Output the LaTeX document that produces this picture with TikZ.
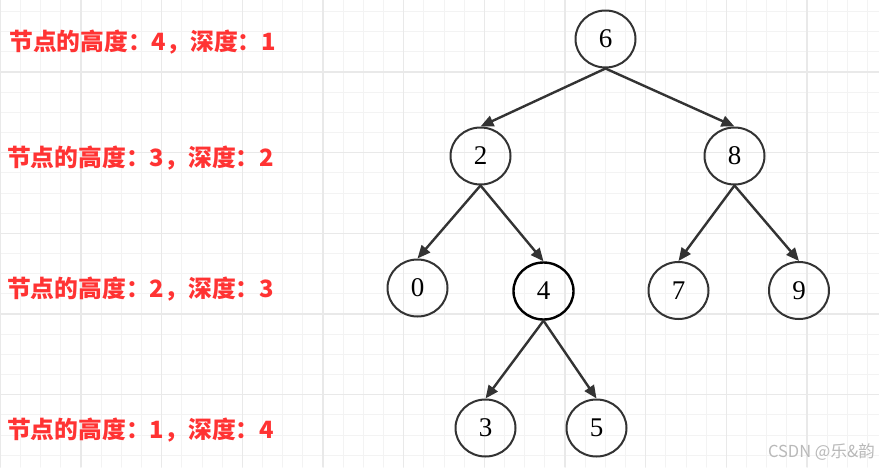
\documentclass[tikz,border=0pt]{standalone}
\usepackage{fontspec}
\setmainfont{Liberation Serif}
\newfontfamily\cjk{Noto Sans CJK SC}
\usetikzlibrary{arrows.meta,shapes.geometric}
\definecolor{gridthin}{RGB}{243,243,243}
\definecolor{gridthick}{RGB}{233,233,233}
\definecolor{edgegray}{RGB}{51,51,51}
\definecolor{labelred}{RGB}{255,51,51}
\definecolor{markgray}{RGB}{185,185,185}

\begin{document}
\begin{tikzpicture}[x=1pt,y=-1pt,line cap=round,line join=round,
  treenode/.style={ellipse,draw=edgegray,line width=2pt,minimum width=60pt,
    minimum height=57pt,inner sep=0pt,font=\fontsize{27}{30}\selectfont},
  treeedge/.style={edgegray,line width=2.4pt,-{Triangle[length=13pt,width=11pt]}},
  levellabel/.style={anchor=west,text=labelred,inner sep=0pt,
    font=\cjk\bfseries\fontsize{23.8}{26}\selectfont}]
  \useasboundingbox (0,0) rectangle (879,467);
  \fill[white] (0,0) rectangle (879,467);

  % background grid
  \foreach \k in {0,...,43}
    \draw[gridthin,line width=1pt] ({0.3+20.17*\k},0) -- ({0.3+20.17*\k},467);
  \foreach \k in {0,...,22}
    \draw[gridthin,line width=1pt] (0,{11.5+20.17*\k}) -- (879,{11.5+20.17*\k});
  \foreach \k in {0,4,...,40}
    \draw[gridthick,line width=1.3pt] ({0.3+20.17*\k},0) -- ({0.3+20.17*\k},467);
  \foreach \k in {3,7,...,19}
    \draw[gridthick,line width=1.3pt] (0,{11.5+20.17*\k}) -- (879,{11.5+20.17*\k});

  % tree
  \node[treenode] (n6) at (605.5,39) {6};
  \node[treenode] (n2) at (480.5,156) {2};
  \node[treenode] (n8) at (734.5,156) {8};
  \node[treenode] (n0) at (417.5,288) {0};
  \node[treenode,draw=black,line width=2.4pt] (n4) at (543.5,291) {4};
  \node[treenode] (n7) at (678.5,290.5) {7};
  \node[treenode] (n9) at (799,290.5) {9};
  \node[treenode] (n3) at (485.5,428) {3};
  \node[treenode] (n5) at (596.5,428) {5};

  \draw[treeedge] (n6.south) -- (n2.north);
  \draw[treeedge] (n6.south) -- (n8.north);
  \draw[treeedge] (n2.south) -- (n0.north);
  \draw[treeedge] (n2.south) -- (n4.north);
  \draw[treeedge] (n8.south) -- (n7.north);
  \draw[treeedge] (n8.south) -- (n9.north);
  \draw[treeedge] (n4.south) -- (n3.north);
  \draw[treeedge] (n4.south) -- (n5.north);

  % level labels
  \node[levellabel] (lv1) at (9,42) {节点的高度：4，深度：1};
  \node[levellabel] (lv2) at (7,158) {节点的高度：3，深度：2};
  \node[levellabel] (lv3) at (7,289) {节点的高度：2，深度：3};
  \node[levellabel] (lv4) at (7,430) {节点的高度：1，深度：4};

  \node[anchor=east,text=markgray,inner sep=0pt,font=\cjk\fontsize{16.5}{18}\selectfont]
    (mark) at (875,452) {CSDN @乐\&韵};
\end{tikzpicture}
\end{document}
